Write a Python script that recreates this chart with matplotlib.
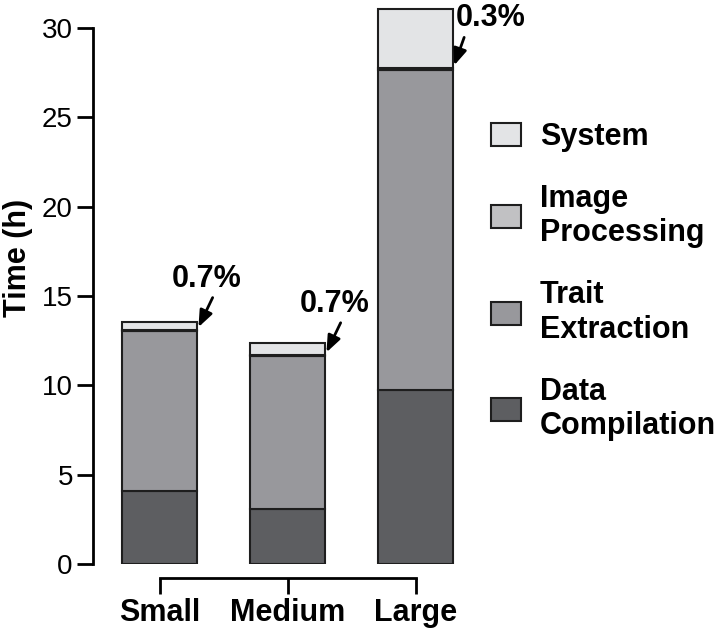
import matplotlib.pyplot as plt
import numpy as np

plt.rcParams["font.family"] = ["Liberation Sans", "DejaVu Sans"]

# data (hours)
sizes = ["Small", "Medium", "Large"]
data_compilation = [4.1, 3.1, 9.75]
trait_extraction = [8.92, 8.52, 17.93]
image_processing = [0.1, 0.09, 0.09]
system = [0.43, 0.66, 3.3]

layer_names = ["Data\nCompilation", "Trait\nExtraction", "Image\nProcessing", "System"]
layer_colors = ["#5d5e61", "#98989c", "#c1c1c3", "#e3e4e6"]

# label offsets from the arrow tip (points) and where the arrow leaves the label
label_offsets = [(6.5, 26), (6.5, 26), (27, 25)]
arrow_relpos = [(0.66, 0.2), (0.66, 0.2), (0.17, 0.2)]


def main() -> None:
    fig = plt.figure(figsize=(7.2, 6.31), dpi=100)
    ax = fig.add_axes([93 / 720, 1 - 564 / 631, (470 - 93) / 720, (564 - 5) / 631])

    x = np.arange(len(sizes))
    width = 0.59
    layers = [data_compilation, trait_extraction, image_processing, system]
    bottom = np.zeros(len(sizes))
    handles = []
    for name, values, color in zip(layer_names, layers, layer_colors):
        bars = ax.bar(x, values, width, bottom=bottom, color=color,
                      edgecolor="#1e1e1e", linewidth=1.5, label=name)
        handles.append(bars)
        bottom = bottom + np.array(values)

    totals = bottom
    tips = np.array(data_compilation) + np.array(trait_extraction) + np.array(image_processing)
    for i in range(len(sizes)):
        pct = image_processing[i] / totals[i] * 100
        ax.annotate(f"{pct:.1f}%", xy=(x[i] + width / 2, tips[i]),
                    xytext=label_offsets[i], textcoords="offset points",
                    ha="center", va="bottom", fontsize=22, fontweight="bold",
                    arrowprops=dict(arrowstyle="-|>,head_length=0.5,head_width=0.2",
                                    color="black", lw=2.0, mutation_scale=20,
                                    shrinkA=1, shrinkB=2, relpos=arrow_relpos[i]))

    # spines first: moving a spine resets the tick labels
    for side in ["top", "right"]:
        ax.spines[side].set_visible(False)
    ax.spines["left"].set_linewidth(2)
    ax.spines["bottom"].set_linewidth(2)
    ax.spines["bottom"].set_position(("outward", 10))
    ax.spines["left"].set_bounds(0, 30)
    ax.spines["bottom"].set_bounds(x[0], x[-1])

    ax.set_ylim(0, 564 / 18.02)
    ax.set_xlim(-(159.5 - 93) / 128, (470 - 159.5) / 128)
    ax.set_yticks([0, 5, 10, 15, 20, 25, 30])
    ax.tick_params(axis="both", width=2, length=11.5, color="black")
    ax.tick_params(axis="y", labelsize=20, pad=3)
    ax.tick_params(axis="x", pad=3)
    ax.set_xticks(x, sizes, fontsize=22, fontweight="bold")

    fig.text(18 / 720, 1 - 258 / 631, "Time (h)", rotation=90, ha="center",
             va="center", fontsize=22, fontweight="bold")

    fig.legend(handles[::-1], layer_names[::-1], loc="upper left",
               bbox_to_anchor=(491 / 720, 1 - 122 / 631), frameon=False,
               prop=dict(size=22, weight="bold"), borderpad=0, borderaxespad=0,
               handlelength=0.98, handleheight=0.78, handletextpad=0.62,
               labelspacing=1.04)

    fig.savefig("out.png", dpi=100)


if __name__ == "__main__":
    main()
